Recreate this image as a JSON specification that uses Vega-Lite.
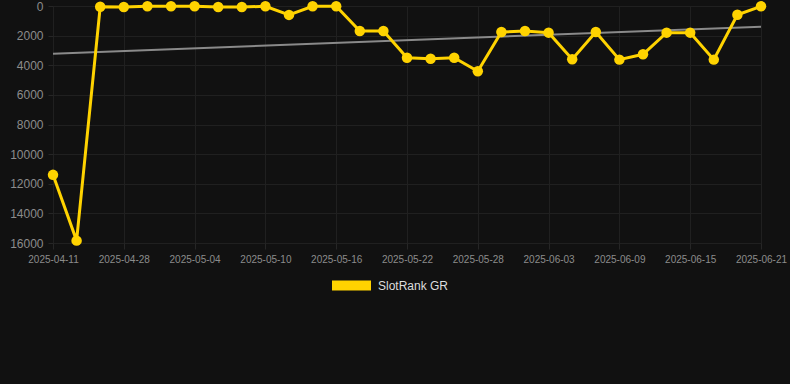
{
  "$schema": "https://vega.github.io/schema/vega-lite/v6.json",
  "autosize": "none",
  "width": 708,
  "height": 237,
  "padding": {"left": 53, "top": 6, "right": 29, "bottom": 141},
  "background": "#111111",
  "datasets": {
    "main": [
      {"date": "2025-04-11", "rank": 11400},
      {"date": "2025-04-13", "rank": 15840},
      {"date": "2025-04-26", "rank": 50},
      {"date": "2025-04-28", "rank": 70},
      {"date": "2025-04-30", "rank": 20},
      {"date": "2025-05-02", "rank": 20},
      {"date": "2025-05-04", "rank": 20},
      {"date": "2025-05-06", "rank": 70},
      {"date": "2025-05-08", "rank": 70},
      {"date": "2025-05-10", "rank": 20},
      {"date": "2025-05-12", "rank": 600},
      {"date": "2025-05-14", "rank": 20},
      {"date": "2025-05-16", "rank": 20},
      {"date": "2025-05-18", "rank": 1690},
      {"date": "2025-05-20", "rank": 1690},
      {"date": "2025-05-22", "rank": 3490},
      {"date": "2025-05-24", "rank": 3560},
      {"date": "2025-05-26", "rank": 3490},
      {"date": "2025-05-28", "rank": 4410},
      {"date": "2025-05-30", "rank": 1755},
      {"date": "2025-06-01", "rank": 1690},
      {"date": "2025-06-03", "rank": 1800},
      {"date": "2025-06-05", "rank": 3600},
      {"date": "2025-06-07", "rank": 1755},
      {"date": "2025-06-09", "rank": 3620},
      {"date": "2025-06-11", "rank": 3260},
      {"date": "2025-06-13", "rank": 1800},
      {"date": "2025-06-15", "rank": 1800},
      {"date": "2025-06-17", "rank": 3620},
      {"date": "2025-06-19", "rank": 590},
      {"date": "2025-06-21", "rank": 20}
    ],
    "trend": [
      {"date": "2025-04-11", "rank": 3220},
      {"date": "2025-06-21", "rank": 1400}
    ]
  },
  "encoding": {
    "x": {
      "field": "date",
      "type": "ordinal",
      "scale": {"type": "point", "padding": 0},
      "axis": {
        "title": null,
        "values": ["2025-04-11", "2025-04-28", "2025-05-04", "2025-05-10", "2025-05-16", "2025-05-22", "2025-05-28", "2025-06-03", "2025-06-09", "2025-06-15", "2025-06-21"],
        "labelAngle": 0,
        "labelFontSize": 10,
        "labelColor": "#8c8c8c",
        "labelPadding": 5,
        "tickSize": 6,
        "tickColor": "#262626",
        "domain": false,
        "grid": true,
        "gridColor": "#202020"
      }
    },
    "y": {
      "field": "rank",
      "type": "quantitative",
      "scale": {"domain": [0, 16000], "reverse": true, "nice": false, "zero": false},
      "axis": {
        "title": null,
        "values": [0, 2000, 4000, 6000, 8000, 10000, 12000, 14000, 16000],
        "format": "d",
        "labelFontSize": 12,
        "labelColor": "#8c8c8c",
        "labelPadding": 5,
        "tickSize": 5,
        "tickColor": "#262626",
        "domain": false,
        "grid": true,
        "gridColor": "#202020"
      }
    }
  },
  "layer": [
    {
      "data": {"name": "trend"},
      "mark": {"type": "line", "color": "#8a8a8a", "strokeWidth": 2, "clip": false},
      "encoding": {}
    },
    {
      "data": {"name": "main"},
      "mark": {"type": "line", "strokeWidth": 3, "clip": false},
      "encoding": {
        "color": {
          "datum": "SlotRank GR",
          "scale": {"domain": ["SlotRank GR"], "range": ["#FFD300"]},
          "legend": {
            "title": null,
            "orient": "none",
            "legendX": 279,
            "legendY": 260,
            "symbolType": "M-1,-0.2564H1V0.2564H-1Z",
            "symbolSize": 1521,
            "symbolStrokeWidth": 0,
            "labelFontSize": 12,
            "labelColor": "#dddddd",
            "labelOffset": 7,
            "encode": {"symbols": {"update": {"fill": {"value": "#FFD300"}, "strokeWidth": {"value": 0}}}}
          }
        }
      }
    },
    {
      "data": {"name": "main"},
      "mark": {"type": "point", "filled": true, "opacity": 1, "size": 110, "color": "#FFD300", "clip": false},
      "encoding": {}
    }
  ],
  "config": {
    "view": {"stroke": null},
    "font": "Liberation Sans"
  }
}
